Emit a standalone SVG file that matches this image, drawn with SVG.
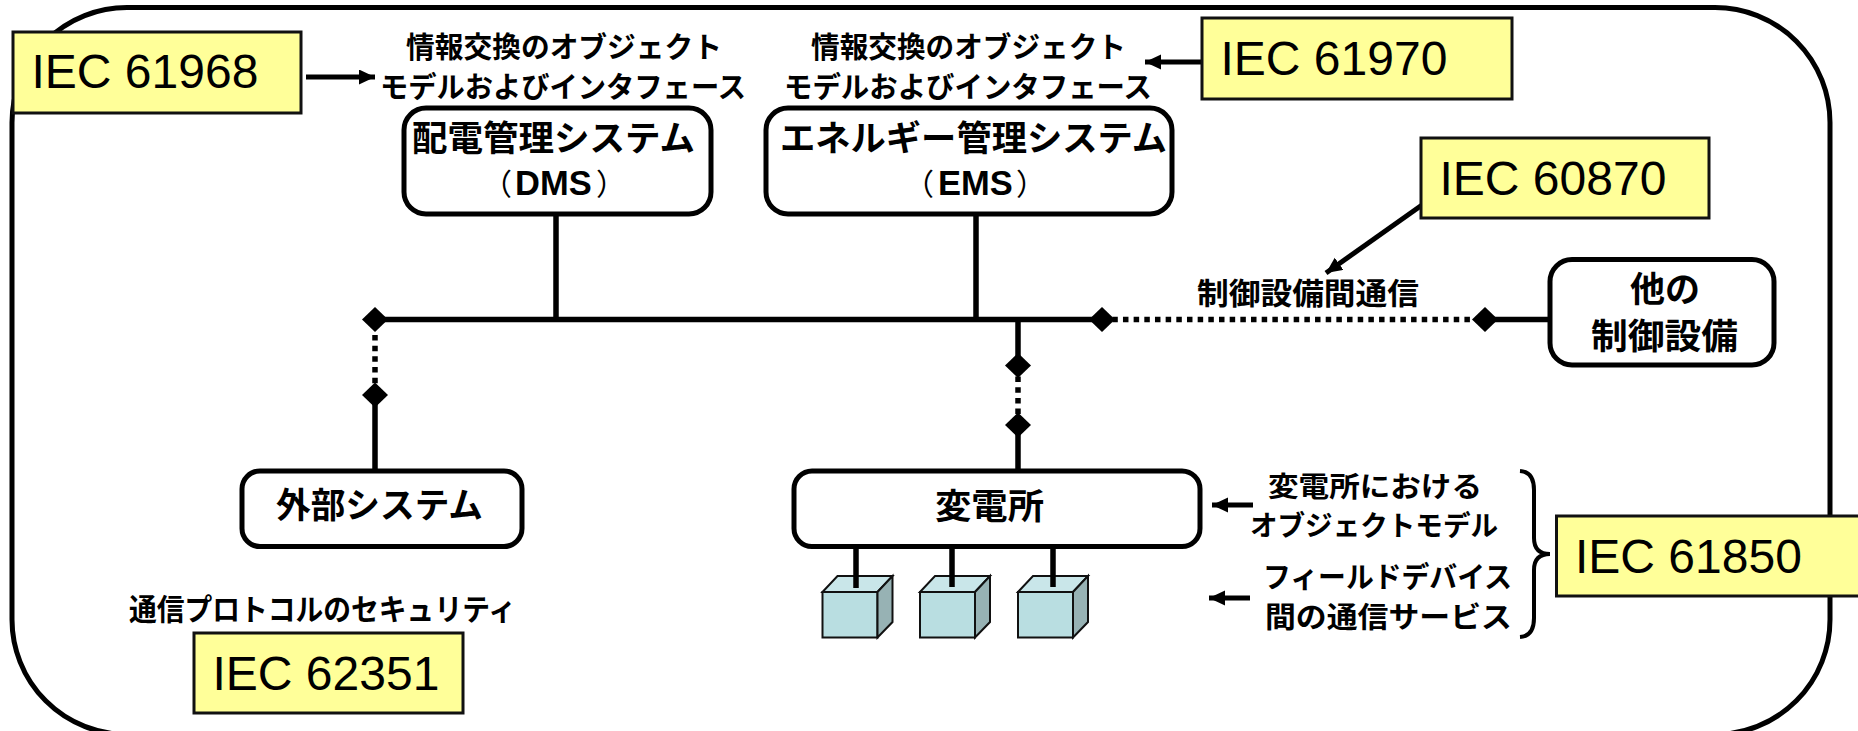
<svg xmlns="http://www.w3.org/2000/svg" xmlns:xlink="http://www.w3.org/1999/xlink" width="1858" height="731" viewBox="0 0 1858 731">
<style>
.node{fill:#fff;stroke:#000;stroke-width:5}
.iec{fill:#FFFF99;stroke:#111;stroke-width:3}
.iect{font-family:"Liberation Sans",Arial,sans-serif;font-size:48px;fill:#000}
.jp{font-family:"Noto Sans CJK JP","Liberation Sans",sans-serif;font-weight:700;fill:#000}
.s28{font-size:28px}
.s29{font-size:29px}
.s30{font-size:30px}
.s35{font-size:35px}
.lat{font-family:"Liberation Sans","Noto Sans CJK JP",sans-serif;font-size:34.5px}
.pr{font-weight:400;font-size:30px}
.ln{fill:none;stroke:#000;stroke-width:5.5}
.dash{fill:none;stroke:#000;stroke-width:5.5;stroke-dasharray:5.5 5.17}
.ar{fill:none;stroke:#000;stroke-width:5}
.cf{fill:#B9DEE1;stroke:#111;stroke-width:2}
.ct{fill:#C9E6E9;stroke:#111;stroke-width:2}
.cs{fill:#97B2B4;stroke:#111;stroke-width:2}
</style>
<defs>
<marker id="ah" markerUnits="userSpaceOnUse" markerWidth="18" markerHeight="16" refX="16" refY="7.5" orient="auto" viewBox="0 0 18 16"><path d="M0 0L16 7.5L0 15Z" fill="#000"/></marker>
<path id="dia" d="M0-12.5L13 0L0 12.5L-13 0Z" fill="#000"/>
<g id="cube"><path class="cf" d="M0 16H55V61.5H0Z"/><path class="ct" d="M0 16L15 0H70L55 16Z"/><path class="cs" d="M55 16L70 0V46L55 61.5Z"/></g>
</defs>
<rect id="frame" x="12" y="7.5" width="1818" height="727" rx="115" ry="115" fill="#fff" stroke="#000" stroke-width="5"/>
<g id="devices">
<use xlink:href="#cube" href="#cube" x="822.5" y="576"/>
<use xlink:href="#cube" href="#cube" x="920" y="576"/>
<use xlink:href="#cube" href="#cube" x="1018" y="576"/>
</g>
<g id="connectors">
<path class="ln" d="M375 319.5H1102M556 214V319.5M976 214V319.5M1018 319.5V365M1018 425V471M375 395V471M1485 319.5H1550"/>
<path class="dash" d="M375 335V385"/>
<path class="dash" d="M1018 376.6V414"/>
<path class="dash" d="M1112.3 319.5H1475"/>
<path class="ln" d="M856 546V588M952 546V587M1053 546V587"/>
<path class="ar" marker-end="url(#ah)" d="M306 77H375"/>
<path class="ar" marker-end="url(#ah)" d="M1202 62H1145"/>
<path class="ar" marker-end="url(#ah)" d="M1422 205L1326 273"/>
<path class="ar" marker-end="url(#ah)" d="M1253 505H1212"/>
<path class="ar" marker-end="url(#ah)" d="M1250 598H1209"/>
<path fill="none" stroke="#000" stroke-width="4" d="M1520 471Q1534 472 1534 490V538Q1534 554 1550 554Q1534 554 1534 570V618Q1534 636 1520 637"/>
<use xlink:href="#dia" href="#dia" x="375" y="319.5"/>
<use xlink:href="#dia" href="#dia" x="375" y="395"/>
<use xlink:href="#dia" href="#dia" x="1102" y="319.5"/>
<use xlink:href="#dia" href="#dia" x="1485" y="319.5"/>
<use xlink:href="#dia" href="#dia" x="1018" y="365.5"/>
<use xlink:href="#dia" href="#dia" x="1018" y="425"/>
</g>
<g id="dms"><rect class="node" x="404" y="108" width="307" height="106" rx="22"/>
<text class="jp s35" x="412" y="151" textLength="283" lengthAdjust="spacingAndGlyphs">配電管理システム</text>
<text class="jp" y="195"><tspan class="pr" x="482">（</tspan><tspan class="lat" x="515">DMS</tspan><tspan class="pr" x="596">）</tspan></text></g>
<g id="ems"><rect class="node" x="766" y="108" width="406" height="106" rx="22"/>
<text class="jp s35" x="780" y="151" textLength="387" lengthAdjust="spacingAndGlyphs">エネルギー管理システム</text>
<text class="jp" y="195"><tspan class="pr" x="904">（</tspan><tspan class="lat" x="938">EMS</tspan><tspan class="pr" x="1016">）</tspan></text></g>
<g id="other"><rect class="node" x="1550" y="259.5" width="224" height="105.5" rx="22"/>
<text class="jp s35" x="1630" y="302" textLength="70" lengthAdjust="spacingAndGlyphs">他の</text>
<text class="jp s35" x="1591" y="349" textLength="147" lengthAdjust="spacingAndGlyphs">制御設備</text></g>
<g id="external"><rect class="node" x="242" y="471" width="280" height="75.5" rx="18"/>
<text class="jp s35" x="276" y="518" textLength="207" lengthAdjust="spacingAndGlyphs">外部システム</text></g>
<g id="substation"><rect class="node" x="794" y="471" width="406" height="75.5" rx="18"/>
<text class="jp s35" x="935" y="519" textLength="109" lengthAdjust="spacingAndGlyphs">変電所</text></g>
<g id="iec61968"><rect class="iec" x="13" y="32" width="288" height="81"/><text class="iect" x="31.5" y="88">IEC 61968</text></g>
<g id="iec61970"><rect class="iec" x="1202" y="18" width="310" height="81"/><text class="iect" x="1220.5" y="75">IEC 61970</text></g>
<g id="iec60870"><rect class="iec" x="1421" y="138" width="288" height="80"/><text class="iect" x="1439.5" y="195">IEC 60870</text></g>
<g id="iec61850"><rect class="iec" x="1556.5" y="516" width="310" height="80"/><text class="iect" x="1575" y="573">IEC 61850</text></g>
<g id="iec62351"><rect class="iec" x="194" y="633" width="269" height="80"/><text class="iect" x="212.5" y="690">IEC 62351</text></g>
<g id="labels">
<text class="jp s29" x="406" y="58" textLength="316" lengthAdjust="spacingAndGlyphs">情報交換のオブジェクト</text>
<text class="jp s29" x="380" y="98" textLength="366" lengthAdjust="spacingAndGlyphs">モデルおよびインタフェース</text>
<text class="jp s29" x="811" y="58" textLength="315" lengthAdjust="spacingAndGlyphs">情報交換のオブジェクト</text>
<text class="jp s29" x="784" y="98" textLength="368" lengthAdjust="spacingAndGlyphs">モデルおよびインタフェース</text>
<text class="jp s30" x="1197" y="304" textLength="222" lengthAdjust="spacingAndGlyphs">制御設備間通信</text>
<text class="jp s30" x="129" y="620" textLength="387" lengthAdjust="spacingAndGlyphs">通信プロトコルのセキュリティ</text>
<text class="jp s28" x="1268" y="497" textLength="214" lengthAdjust="spacingAndGlyphs">変電所における</text>
<text class="jp s28" x="1250" y="536" textLength="248" lengthAdjust="spacingAndGlyphs">オブジェクトモデル</text>
<text class="jp s29" x="1263" y="588" textLength="249" lengthAdjust="spacingAndGlyphs">フィールドデバイス</text>
<text class="jp s29" x="1265" y="628" textLength="247" lengthAdjust="spacingAndGlyphs">間の通信サービス</text>
</g>
</svg>
